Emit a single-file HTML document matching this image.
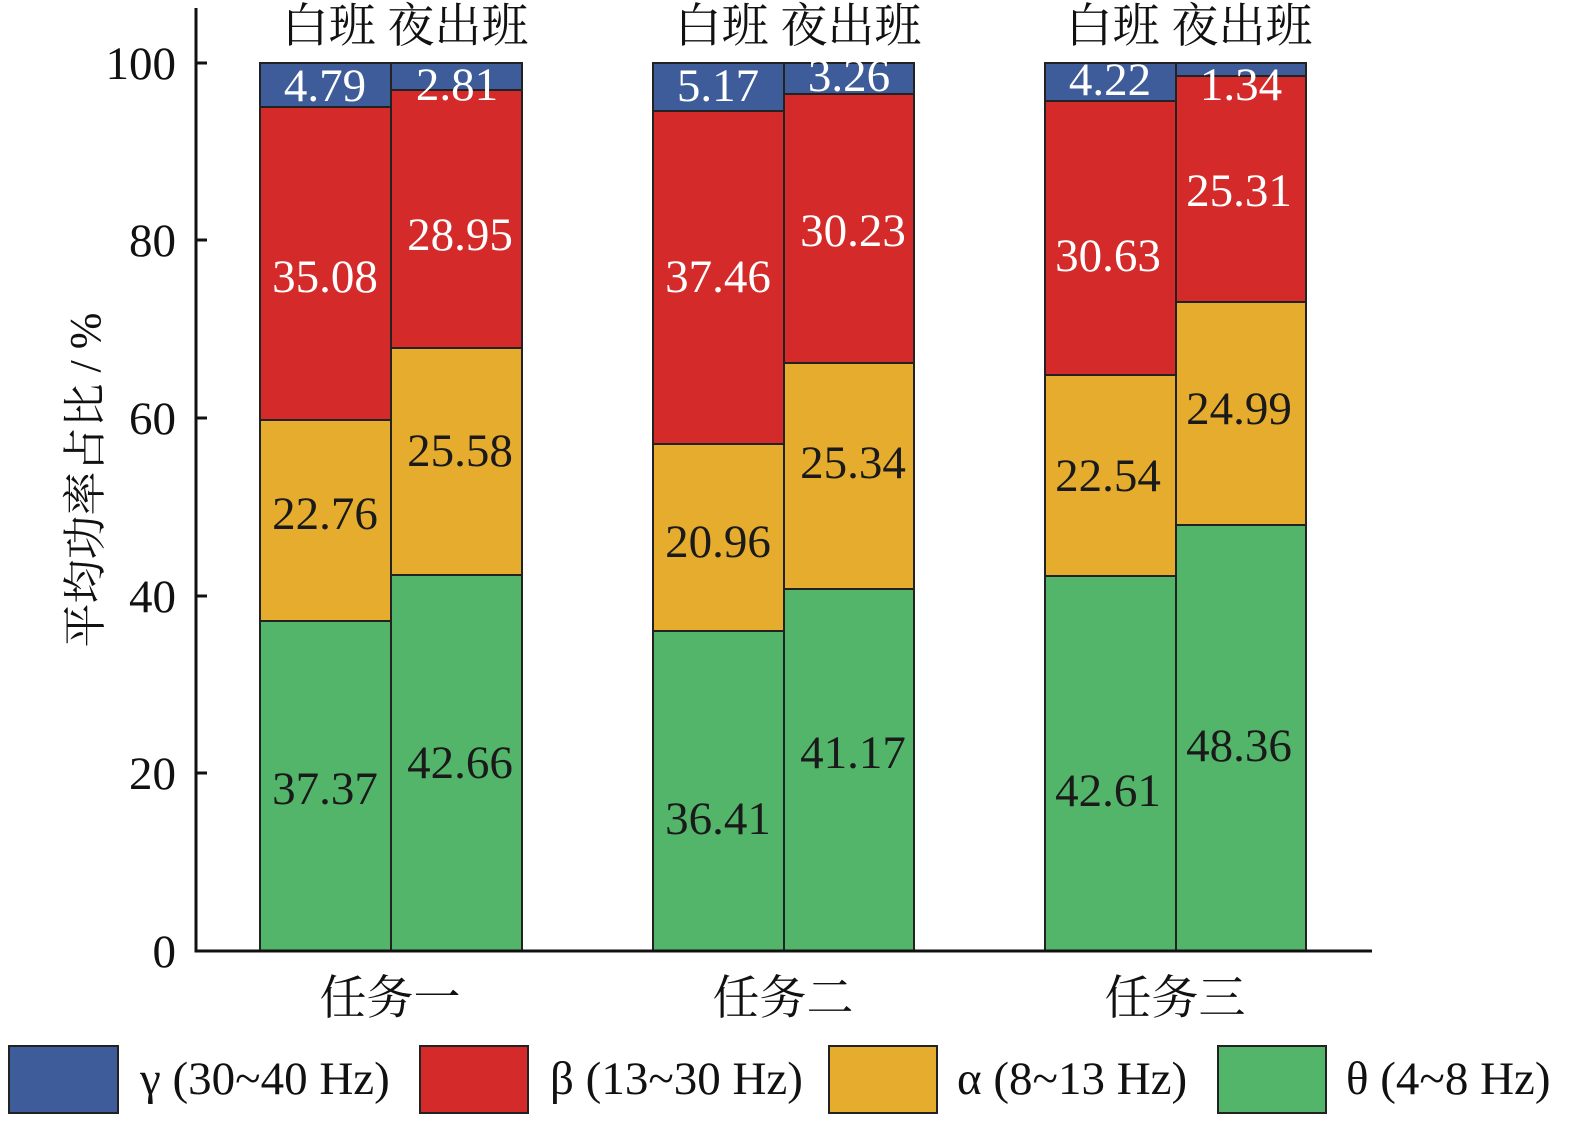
<!DOCTYPE html><html><head><meta charset="utf-8"><style>body{margin:0;background:#fff}svg{display:block}</style></head><body>
<svg width="1575" height="1121" xmlns="http://www.w3.org/2000/svg" font-family="'Liberation Serif','Noto Serif CJK SC',serif">
<g stroke="#222" stroke-width="2">
<rect x="260" y="621" width="131" height="330" fill="#52b56a"/><rect x="260" y="420" width="131" height="201" fill="#e5ac2e"/><rect x="260" y="107" width="131" height="313" fill="#d42a2a"/><rect x="260" y="63" width="131" height="44" fill="#3d5c99"/>
<rect x="391" y="575" width="131" height="376" fill="#52b56a"/><rect x="391" y="348" width="131" height="227" fill="#e5ac2e"/><rect x="391" y="90" width="131" height="258" fill="#d42a2a"/><rect x="391" y="63" width="131" height="27" fill="#3d5c99"/>
<rect x="653" y="631" width="131" height="320" fill="#52b56a"/><rect x="653" y="444" width="131" height="187" fill="#e5ac2e"/><rect x="653" y="111" width="131" height="333" fill="#d42a2a"/><rect x="653" y="63" width="131" height="48" fill="#3d5c99"/>
<rect x="784" y="589" width="130" height="362" fill="#52b56a"/><rect x="784" y="363" width="130" height="226" fill="#e5ac2e"/><rect x="784" y="94" width="130" height="269" fill="#d42a2a"/><rect x="784" y="63" width="130" height="31" fill="#3d5c99"/>
<rect x="1045" y="576" width="131" height="375" fill="#52b56a"/><rect x="1045" y="375" width="131" height="201" fill="#e5ac2e"/><rect x="1045" y="101" width="131" height="274" fill="#d42a2a"/><rect x="1045" y="63" width="131" height="38" fill="#3d5c99"/>
<rect x="1176" y="525" width="130" height="426" fill="#52b56a"/><rect x="1176" y="302" width="130" height="223" fill="#e5ac2e"/><rect x="1176" y="76" width="130" height="226" fill="#d42a2a"/><rect x="1176" y="63" width="130" height="13" fill="#3d5c99"/>
</g>
<g font-size="47" text-anchor="middle">
<g fill="#fff"><text x="325" y="101">4.79</text><text x="457" y="100">2.81</text><text x="718" y="101">5.17</text><text x="849" y="91">3.26</text><text x="1110" y="95">4.22</text><text x="1241" y="100">1.34</text>
<text x="325" y="292">35.08</text><text x="460" y="250">28.95</text><text x="718" y="292">37.46</text><text x="853" y="246">30.23</text><text x="1108" y="271">30.63</text><text x="1239" y="206">25.31</text></g>
<g fill="#1a1a1a"><text x="325" y="529">22.76</text><text x="460" y="466">25.58</text><text x="718" y="557">20.96</text><text x="853" y="478">25.34</text><text x="1108" y="491">22.54</text><text x="1239" y="424">24.99</text>
<text x="325" y="804">37.37</text><text x="460" y="778">42.66</text><text x="718" y="834">36.41</text><text x="853" y="768">41.17</text><text x="1108" y="806">42.61</text><text x="1239" y="761">48.36</text></g>
</g>
<g stroke="#111" stroke-width="3" fill="none"><path d="M196 8V951H1372"/><path d="M196 63h11M196 240h11M196 418h11M196 596h11M196 773h11"/></g>
<g font-size="47" text-anchor="end" fill="#111"><text x="176" y="79">100</text><text x="176" y="256">80</text><text x="176" y="434">60</text><text x="176" y="612">40</text><text x="176" y="789">20</text><text x="176" y="967">0</text></g>
<text transform="translate(100,480) rotate(-90)" font-size="44" text-anchor="middle" fill="#111">平均功率占比 / %</text>
<g font-size="47" fill="#111" text-anchor="middle"><text x="405" y="42">白班 夜出班</text><text x="798" y="42">白班 夜出班</text><text x="1189" y="42">白班 夜出班</text>
<text x="390" y="1014">任务一</text><text x="783" y="1014">任务二</text><text x="1175" y="1014">任务三</text></g>
<g stroke="#222" stroke-width="2"><rect x="9" y="1046" width="109" height="67" fill="#3d5c99"/><rect x="420" y="1046" width="108" height="67" fill="#d42a2a"/><rect x="829" y="1046" width="108" height="67" fill="#e5ac2e"/><rect x="1218" y="1046" width="108" height="67" fill="#52b56a"/></g>
<g font-size="47" fill="#111"><text x="140" y="1094">γ (30~40 Hz)</text><text x="550" y="1094">β (13~30 Hz)</text><text x="957" y="1094">α (8~13 Hz)</text><text x="1346" y="1094">θ (4~8 Hz)</text></g>
</svg></body></html>
